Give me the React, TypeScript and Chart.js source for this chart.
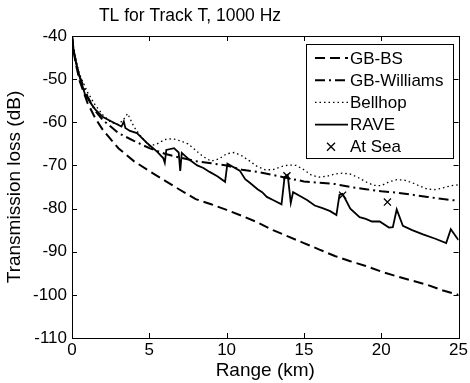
import React, { useEffect, useRef } from "react";
import { Chart, registerables } from "chart.js";

Chart.register(...registerables);

const FONT = "'Liberation Sans', Arial, sans-serif";

const titleText = "TL for Track T, 1000 Hz";
const xLabel = "Range (km)";
const yLabel = "Transmission loss (dB)";
const xTicks = [0, 5, 10, 15, 20, 25];
const yTicks = [-110, -100, -90, -80, -70, -60, -50, -40];

const gbbsRange = [0, 0.1, 0.25, 0.5, 1, 1.5, 2, 3, 4, 5, 6, 7, 8, 9, 10, 11, 12, 13, 14, 15, 16, 17, 18, 19, 20, 21, 22, 23, 24, 25];
const gbbsTL = [-40, -43.5, -46.5, -50.5, -55.5, -59, -61.8, -66, -69, -71.3, -73.5, -75.7, -77.8, -79, -80.3, -81.7, -83.2, -85, -86.5, -88, -89.5, -91, -92.2, -93.3, -94.6, -95.7, -96.7, -97.7, -99, -100];

const williamsRange = [0, 0.1, 0.25, 0.5, 1, 1.5, 2, 2.5, 3, 4, 5, 6, 7, 8, 9, 10, 11, 12, 13, 14, 15, 16, 17, 18, 19, 20, 21, 22, 23, 24, 25];
const williamsTL = [-40, -43, -46, -49.5, -54, -57.3, -59.5, -61, -62.5, -64.3, -66, -67.3, -68.2, -69, -69.5, -70, -71, -71.5, -72.2, -73, -73.7, -74, -74.3, -75, -75.5, -76, -76.3, -76.8, -77.3, -77.8, -78.2];

const bellhopRange = [0, 0.1, 0.25, 0.5, 1, 1.5, 2, 2.5, 3, 3.3, 3.6, 4, 4.4, 5, 5.5, 6, 6.5, 7, 7.5, 8, 8.5, 9, 9.5, 10, 10.5, 11, 11.5, 12, 12.5, 13, 13.5, 14, 14.5, 15, 15.5, 16, 16.5, 17, 17.5, 18, 18.5, 19, 19.5, 20, 20.5, 21, 21.5, 22, 22.5, 23, 23.5, 24, 24.5, 25];
const bellhopTL = [-40, -43, -45.5, -49, -53, -56, -58.3, -60, -60.5, -59.5, -58, -61, -63, -65.5, -65, -64, -63.8, -64.3, -65, -66.5, -68, -69, -68.5, -67.3, -67, -67.8, -69, -70.3, -71, -71, -70.3, -69.9, -70, -71, -72.3, -72.7, -72.5, -72, -71.8, -72, -72.8, -73.8, -74.6, -74.7, -73.8, -73.3, -73.4, -74, -74.8, -75.5, -75.6, -75.2, -74.7, -74.5];

const raveRange = [0, 0.1, 0.25, 0.5, 0.84, 1.2, 1.5, 2, 2.65, 3.2, 3.35, 3.45, 3.75, 4.2, 4.4, 4.85, 5.5, 5.9, 6.0, 6.1, 6.6, 6.9, 7.0, 7.1, 7.6, 8.1, 8.5, 8.9, 9.4, 9.9, 10.05, 10.85, 11.2, 11.5, 12.0, 12.3, 12.6, 13.0, 13.55, 13.75, 13.95, 14.15, 14.3, 14.8, 15.2, 15.7, 16.2, 16.7, 17.1, 17.3, 17.5, 18.0, 18.6, 19.0, 19.4, 19.9, 20.5, 20.75, 21.0, 21.4, 22.0, 22.7, 23.5, 24.2, 24.5, 24.9, 25];
const raveTL = [-40, -43, -46, -49.5, -53.5, -55.5, -57, -58.8, -60, -61, -59.8, -61.3, -62, -62.5, -63.2, -64.8, -66.8, -68.3, -69.4, -66.4, -66, -67, -71.3, -67.1, -68.7, -70, -70.6, -71.5, -72.5, -73.8, -69.6, -71.2, -73.2, -74, -75.5, -76.2, -77.3, -78, -79, -72.7, -72.2, -78.7, -76.2, -77.2, -78, -79.3, -79.9, -80.6, -81.5, -76.8, -76.6, -80, -82, -82.4, -83, -83, -84.4, -84.3, -80.2, -84, -85, -86, -87, -88, -84.8, -86.8, -87.3];

const seaRange = [13.9, 17.5, 20.4];
const seaTL = [-72.4, -76.9, -78.5];

const pts = (xs: number[], ys: number[]) => xs.map((x, i) => ({ x, y: ys[i] }));

const framePlugin = {
  id: "frame",
  afterDatasetsDraw(chart: any) {
    const { ctx, chartArea: a, scales } = chart;
    ctx.save();
    ctx.strokeStyle = "#000";
    ctx.lineWidth = 1;
    ctx.strokeRect(Math.round(a.left) + 0.5, Math.round(a.top) + 0.5, Math.round(a.right - a.left), Math.round(a.bottom - a.top));
    const L = 5;
    ctx.beginPath();
    xTicks.forEach((t) => {
      const x = Math.round(scales.x.getPixelForValue(t)) + 0.5;
      ctx.moveTo(x, a.bottom);
      ctx.lineTo(x, a.bottom - L);
      ctx.moveTo(x, a.top);
      ctx.lineTo(x, a.top + L);
    });
    yTicks.forEach((t) => {
      const y = Math.round(scales.y.getPixelForValue(t)) + 0.5;
      ctx.moveTo(a.left, y);
      ctx.lineTo(a.left + L, y);
      ctx.moveTo(a.right, y);
      ctx.lineTo(a.right - L, y);
    });
    ctx.stroke();

    // title
    ctx.fillStyle = "#000";
    ctx.font = `17.5px ${FONT}`;
    ctx.textAlign = "center";
    ctx.textBaseline = "middle";
    ctx.fillText(titleText, 190, 16);

    // legend
    const bx = 306, by = 44, bw = 147, bh = 114;
    ctx.fillStyle = "#fff";
    ctx.fillRect(bx, by, bw, bh);
    ctx.strokeStyle = "#000";
    ctx.lineWidth = 1;
    ctx.strokeRect(bx + 0.5, by + 0.5, bw, bh);
    const entries = chart.data.datasets;
    entries.forEach((ds: any, i: number) => {
      const y = by + 14 + i * 22.2;
      ctx.save();
      if (ds.type === "scatter") {
        ctx.lineWidth = 1.3;
        ctx.setLineDash([]);
        ctx.beginPath();
        ctx.moveTo(327, y - 4); ctx.lineTo(335, y + 4);
        ctx.moveTo(335, y - 4); ctx.lineTo(327, y + 4);
        ctx.stroke();
      } else {
        ctx.lineWidth = ds.borderWidth;
        ctx.setLineDash(ds.borderDash || []);
        ctx.beginPath();
        ctx.moveTo(315, y);
        ctx.lineTo(348, y);
        ctx.stroke();
      }
      ctx.restore();
      ctx.fillStyle = "#000";
      ctx.font = `17px ${FONT}`;
      ctx.textAlign = "left";
      ctx.textBaseline = "middle";
      ctx.fillText(ds.label, 350, y + 1);
    });
    ctx.restore();
  },
};

export default function App() {
  const ref = useRef<HTMLCanvasElement>(null);
  useEffect(() => {
    if (!ref.current) return;
    const chart = new Chart(ref.current, {
      type: "line",
      data: {
        datasets: [
          { label: "GB-BS", data: pts(gbbsRange, gbbsTL), borderColor: "#000", borderWidth: 2, borderDash: [10, 5], pointRadius: 0, tension: 0 },
          { label: "GB-Williams", data: pts(williamsRange, williamsTL), borderColor: "#000", borderWidth: 2, borderDash: [10, 4, 2, 4], pointRadius: 0, tension: 0 },
          { label: "Bellhop", data: pts(bellhopRange, bellhopTL), borderColor: "#000", borderWidth: 1.3, borderDash: [1.5, 3], pointRadius: 0, tension: 0 },
          { label: "RAVE", data: pts(raveRange, raveTL), borderColor: "#000", borderWidth: 1.8, pointRadius: 0, tension: 0 },
          { type: "scatter", label: "At Sea", data: pts(seaRange, seaTL), borderColor: "#000", backgroundColor: "#000", pointStyle: "crossRot", pointRadius: 5, borderWidth: 1.3, showLine: false } as any,
        ],
      },
      options: {
        animation: false,
        responsive: false,
        layout: { padding: { top: 36, right: 11, left: 0, bottom: 1 } },
        plugins: { legend: { display: false }, title: { display: false }, tooltip: { enabled: false } },
        scales: {
          x: {
            type: "linear",
            min: 0,
            max: 25,
            afterBuildTicks: (s: any) => { s.ticks = xTicks.map((v) => ({ value: v })); },
            afterFit: (s: any) => { s.height = 44; },
            grid: { display: false, drawTicks: false },
            border: { display: false },
            ticks: { color: "#000", font: { family: FONT, size: 17 }, padding: 2, maxRotation: 0 },
            title: { display: true, text: xLabel, color: "#000", font: { family: FONT, size: 19 }, padding: { top: 0, bottom: 0 } },
          },
          y: {
            type: "linear",
            min: -110,
            max: -40,
            afterBuildTicks: (s: any) => { s.ticks = yTicks.map((v) => ({ value: v })); },
            afterFit: (s: any) => { s.width = 72; },
            grid: { display: false, drawTicks: false },
            border: { display: false },
            ticks: { color: "#000", font: { family: FONT, size: 17 }, padding: 5 },
            title: { display: true, text: yLabel, color: "#000", font: { family: FONT, size: 19 }, padding: { top: 3, bottom: 0 } },
          },
        },
      },
      plugins: [framePlugin],
    });
    return () => chart.destroy();
  }, []);
  return (
    <div style={{ position: "absolute", left: 0, top: 0, width: 470, height: 383, background: "#fff" }}>
      <canvas ref={ref} width={470} height={383} style={{ display: "block" }} />
    </div>
  );
}
